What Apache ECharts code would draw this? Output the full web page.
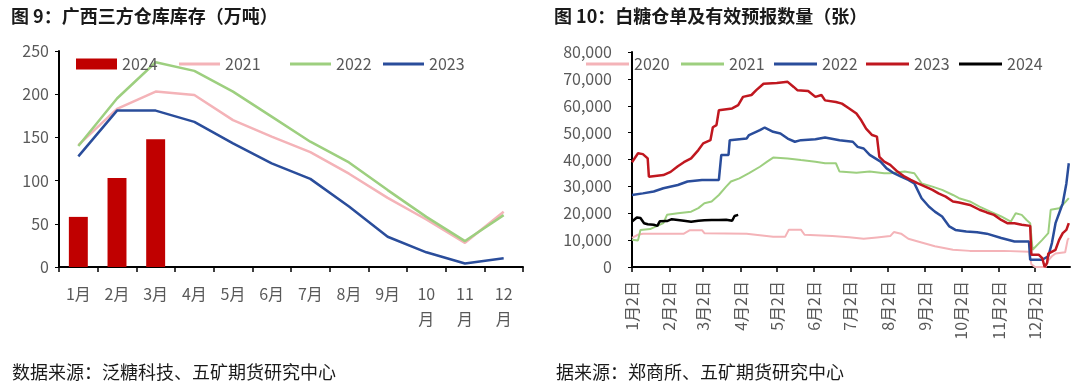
<!DOCTYPE html>
<html>
<head>
<meta charset="utf-8">
<script src="https://cdn.jsdelivr.net/npm/echarts@6/dist/echarts.min.js"></script>
<style>
html,body{margin:0;padding:0;background:#fff;}
#wrap{width:1080px;height:386px;position:relative;}
#c1{position:absolute;left:0;top:0;width:540px;height:386px;}
#c2{position:absolute;left:540px;top:0;width:540px;height:386px;}
</style>
</head>
<body>
<div id="wrap"><div id="c1"></div><div id="c2"></div></div>
<script>
// ---------- Chart 1 data: 广西三方仓库库存（万吨） ----------
const months = ['1月','2月','3月','4月','5月','6月','7月','8月','9月','10月','11月','12月'];
const stock2024 = [58, 103, 148];
const stock2021 = [141, 183, 203, 199, 170, 151, 133, 108, 80, 55, 28, 64];
const stock2022 = [140, 195, 237, 227, 203, 174, 145, 121, 89, 58, 30, 60];
const stock2023 = [128, 181, 181, 168, 143, 120, 102, 70, 35, 17, 4, 10];

// ---------- Chart 2 data: 白糖仓单及有效预报数量（张） ----------
const tickDays = [1, 32, 60, 91, 121, 152, 182, 213, 244, 274, 305, 335];
const tickLabels = ['1月2日','2月2日','3月2日','4月2日','5月2日','6月2日','7月2日','8月2日','9月2日','10月2日','11月2日','12月2日'];

const days2020 = [1,6,10,44,49,59,61,96,118,128,131,141,144,167,181,193,204,215,218,224,230,238,252,267,281,295,309,330,332,335,344,346,349,352,360,362,363];
const wr2020 = [10800,12000,12400,12400,13700,13700,12600,12400,11300,11300,13900,13900,12000,11500,11100,10500,11000,11500,13000,12400,10500,9500,7700,6400,6000,6000,6000,5700,1000,0,0,2500,4000,5000,5500,10000,10800];

const days2021 = [1,6,8,16,21,27,30,39,50,56,61,67,73,79,83,90,98,107,113,118,130,141,153,161,170,173,187,198,210,215,227,235,241,250,258,267,272,281,289,298,307,315,319,324,328,331,333,341,346,348,355,358,363];
const wr2021 = [10100,9900,13800,14100,15100,16300,19400,20000,20600,21900,23700,24400,26800,29900,31800,33000,34900,37300,39200,40700,40400,39800,39200,38600,38600,35500,35100,35500,34900,34900,35500,34900,31100,29900,28700,26800,25600,24400,22500,20600,18800,16900,20000,19400,17500,16300,6400,10100,12600,21300,21900,23100,25600];

const days2022 = [1,10,19,27,39,47,59,73,75,81,82,96,98,107,111,118,124,130,136,141,153,161,173,184,188,193,198,207,212,218,224,230,235,241,247,252,258,264,269,278,287,295,307,318,330,331,341,346,349,352,355,358,361,363];
const wr2022 = [26800,27400,28100,29300,30500,31800,32400,32400,41700,41700,47200,47800,49100,50900,51900,50300,49700,47800,46600,47200,47500,48200,47200,46600,44700,44100,41700,39200,36700,34900,33600,32400,31100,25600,22500,20600,18800,15100,13800,13200,12900,12400,10800,9500,9500,2700,2700,4000,8900,16300,20000,23700,31100,38600];

const days2023 = [1,6,10,14,15,27,33,39,44,50,56,60,66,68,71,73,84,89,93,100,104,110,121,130,135,138,147,153,158,161,170,175,181,187,191,195,200,204,206,210,215,221,227,232,238,244,250,255,261,267,272,281,289,295,301,307,312,318,324,331,332,338,341,343,345,346,352,355,358,361,363];
const wr2023 = [39000,42300,42000,40400,33600,34200,35400,37500,39000,40400,43500,46000,47200,52000,52800,58300,59000,60200,63300,64000,65800,68200,68500,68900,67000,65800,65500,63300,64000,62000,61400,60800,59000,57100,54600,51500,49100,48500,41000,39200,38000,35500,33600,32400,31100,29900,28700,27400,26200,24400,24000,23100,21300,20300,19400,17500,16300,16300,15700,15300,4600,4600,3300,0,1500,5000,6400,10100,12600,13800,16300];

const days2024 = [1,5,8,11,14,19,22,24,30,34,39,44,50,56,61,67,73,79,84,86,89];
const wr2024 = [16900,18400,18200,16300,15900,15700,15300,17000,17100,17800,17500,17200,16800,17200,17400,17500,17500,17600,17200,19000,19400];

const FONT = '"Noto Sans CJK SC", "Noto Sans", sans-serif';
const GREY = '#595959';
const zip = (d, v) => d.map((x, i) => [x, v[i]]);

// ---------- Chart 1 ----------
const c1 = echarts.init(document.getElementById('c1'), null, {renderer: 'canvas'});
const leg1 = (name, left, h) => ({
  left: left, top: 51, itemWidth: 41, itemHeight: h,
  textStyle: {color: GREY, fontSize: 16, fontFamily: FONT},
  data: [{name: name, icon: 'rect'}]
});
c1.setOption({
  animation: false,
  textStyle: {fontFamily: FONT},
  title: [
    {text: '图 9：广西三方仓库库存（万吨）', left: 6, top: 2,
     textStyle: {fontSize: 18, fontWeight: 'bold', color: '#1a1a1a', fontFamily: FONT}},
    {text: '数据来源：泛糖科技、五矿期货研究中心', left: 7, top: 358,
     textStyle: {fontSize: 18, fontWeight: 'normal', color: '#1a1a1a', fontFamily: FONT}}
  ],
  legend: [leg1('2024', 71, 11), leg1('2021', 174, 3), leg1('2022', 285, 3), leg1('2023', 378, 3)],
  grid: {left: 59, right: 17, top: 51, bottom: 119},
  xAxis: {
    type: 'category', data: months, boundaryGap: true,
    axisLine: {lineStyle: {color: '#000', width: 2}},
    axisTick: {show: true, length: 5, lineStyle: {color: '#000', width: 1.5}},
    axisLabel: {color: GREY, fontSize: 16, margin: 14, lineHeight: 25, interval: 0,
      formatter: v => v.replace(/^(\d{2})月$/, '$1\n月')}
  },
  yAxis: {
    type: 'value', min: 0, max: 250, interval: 50,
    axisLine: {show: true, lineStyle: {color: '#000', width: 2}},
    axisTick: {show: true, length: 4, lineStyle: {color: '#000'}},
    splitLine: {show: false},
    axisLabel: {color: GREY, fontSize: 16, margin: 10}
  },
  series: [
    {name: '2024', type: 'bar', data: stock2024, barWidth: '49%', itemStyle: {color: '#C00000'}},
    {name: '2021', type: 'line', data: stock2021, symbol: 'none', lineStyle: {color: '#F4B3B8', width: 2.5}, itemStyle: {color: '#F4B3B8'}},
    {name: '2022', type: 'line', data: stock2022, symbol: 'none', lineStyle: {color: '#9DCF7F', width: 2.5}, itemStyle: {color: '#9DCF7F'}},
    {name: '2023', type: 'line', data: stock2023, symbol: 'none', lineStyle: {color: '#2A4D9B', width: 2.5}, itemStyle: {color: '#2A4D9B'}}
  ]
});

// ---------- Chart 2 ----------
const c2 = echarts.init(document.getElementById('c2'), null, {renderer: 'canvas'});
const leg2 = (name, left) => ({
  left: left, top: 51, itemWidth: 43, itemHeight: 3,
  textStyle: {color: GREY, fontSize: 16, fontFamily: FONT},
  data: [{name: name, icon: 'rect'}]
});
const lineS = (name, d, v, color, w) => ({
  name: name, type: 'line', data: zip(d, v), symbol: 'none',
  lineStyle: {color: color, width: w}, itemStyle: {color: color}
});
const fmtThousands = v => String(v).replace(/\B(?=(\d{3})+(?!\d))/g, ',');
c2.setOption({
  animation: false,
  textStyle: {fontFamily: FONT},
  title: [
    {text: '图 10：白糖仓单及有效预报数量（张）', left: 9, top: 2,
     textStyle: {fontSize: 18, fontWeight: 'bold', color: '#1a1a1a', fontFamily: FONT}},
    {text: '据来源：郑商所、五矿期货研究中心', left: 11, top: 358,
     textStyle: {fontSize: 18, fontWeight: 'normal', color: '#1a1a1a', fontFamily: FONT}}
  ],
  legend: [leg2('2020', 41), leg2('2021', 136), leg2('2022', 229), leg2('2023', 321), leg2('2024', 414)],
  grid: {left: 92, right: 10, top: 52, bottom: 119},
  xAxis: {
    type: 'value', min: 1, max: 364,
    axisLine: {lineStyle: {color: '#000', width: 2}},
    axisTick: {show: true, length: 5, customValues: tickDays, lineStyle: {color: '#000', width: 1.5}},
    splitLine: {show: false},
    axisLabel: {color: GREY, fontSize: 16, margin: 14, rotate: 90, customValues: tickDays,
      formatter: v => tickLabels[tickDays.indexOf(v)] || ''}
  },
  yAxis: {
    type: 'value', min: 0, max: 80000, interval: 10000,
    axisLine: {show: true, lineStyle: {color: '#000', width: 2}},
    axisTick: {show: true, length: 4, lineStyle: {color: '#000'}},
    splitLine: {show: false},
    axisLabel: {color: GREY, fontSize: 16, margin: 20, formatter: fmtThousands}
  },
  series: [
    lineS('2020', days2020, wr2020, '#F4B3B8', 2),
    lineS('2021', days2021, wr2021, '#9DCF7F', 2),
    lineS('2022', days2022, wr2022, '#2A4D9B', 2.5),
    lineS('2023', days2023, wr2023, '#C0171F', 2.5),
    lineS('2024', days2024, wr2024, '#000000', 2.5)
  ]
});
</script>
</body>
</html>
